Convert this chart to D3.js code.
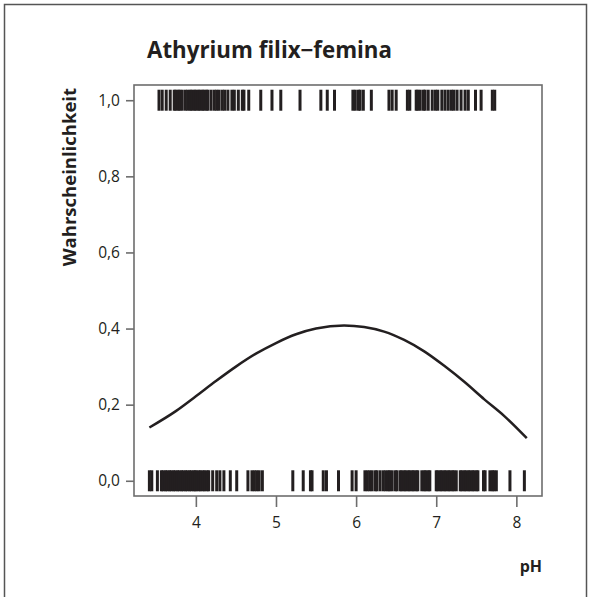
<!DOCTYPE html>
<html lang="de">
<head>
<meta charset="UTF-8">
<title>Athyrium filix-femina</title>
<style>
  html, body { margin: 0; padding: 0; background: #fff; }
  svg { display: block; }
  text { font-family: "Open Sans", "Noto Sans", sans-serif; fill: #231f20; }
  .frame { fill: none; stroke: #555; stroke-width: 1.5px; }
  .box { fill: none; stroke: #6d6d6d; stroke-width: 1.6px; }
  .axis path, .axis line { stroke: #6d6d6d; stroke-width: 1.6px; }
  .axis text { font-size: 15.5px; fill: #231f20; }
  .rug { stroke: #231f20; stroke-width: 3px; }
  .curve { fill: none; stroke: #231f20; stroke-width: 2.5px; }
</style>
</head>
<body>
<svg width="590" height="597"></svg>
<script src="https://d3js.org/d3.v7.min.js"></script>
<script>
// presence (1) and absence (0) observations along pH
const presentPH = [3.54, 3.58, 3.63, 3.68, 3.73, 3.75, 3.78, 3.80, 3.83, 3.87, 3.90,
  3.93, 3.95, 3.98, 4.00, 4.03, 4.05, 4.08, 4.10, 4.13, 4.15, 4.19, 4.23, 4.26, 4.29,
  4.33, 4.36, 4.40, 4.45, 4.48, 4.53, 4.58, 4.60, 4.66, 4.81, 4.95, 5.06, 5.30, 5.56,
  5.64, 5.73, 5.96, 5.99, 6.03, 6.05, 6.09, 6.19, 6.41, 6.45, 6.50, 6.64, 6.67, 6.75,
  6.77, 6.80, 6.84, 6.86, 6.90, 6.95, 6.99, 7.02, 7.07, 7.11, 7.15, 7.19, 7.22, 7.26,
  7.31, 7.36, 7.40, 7.49, 7.56, 7.70, 7.73];

const absentPH = [3.42, 3.45, 3.52, 3.57, 3.59, 3.62, 3.64, 3.67, 3.69, 3.72, 3.74,
  3.77, 3.79, 3.82, 3.84, 3.87, 3.89, 3.92, 3.94, 3.97, 3.99, 4.01, 4.04, 4.06, 4.09,
  4.11, 4.14, 4.16, 4.21, 4.26, 4.30, 4.35, 4.43, 4.51, 4.65, 4.70, 4.73, 4.76, 4.79,
  4.83, 5.21, 5.34, 5.43, 5.45, 5.59, 5.63, 5.78, 5.95, 6.00, 6.11, 6.14, 6.17, 6.20,
  6.24, 6.26, 6.30, 6.34, 6.37, 6.40, 6.42, 6.45, 6.49, 6.51, 6.55, 6.57, 6.60, 6.62,
  6.65, 6.67, 6.70, 6.72, 6.75, 6.77, 6.82, 6.85, 6.87, 6.90, 6.92, 7.00, 7.02, 7.05,
  7.07, 7.10, 7.12, 7.15, 7.17, 7.20, 7.22, 7.25, 7.30, 7.32, 7.35, 7.37, 7.40, 7.42,
  7.45, 7.47, 7.50, 7.52, 7.59, 7.61, 7.67, 7.70, 7.72, 7.75, 7.92, 8.10];

// fitted probability curve
const curvePH   = [3.42, 3.75, 4.00, 4.25, 4.50, 4.75, 5.00, 5.25, 5.50, 5.85,
                   6.10, 6.35, 6.60, 6.85, 7.10, 7.35, 7.60, 7.85, 8.13];
const curveProb = [0.140, 0.183, 0.222, 0.262, 0.300, 0.334, 0.362, 0.385, 0.400, 0.408,
                   0.404, 0.392, 0.370, 0.340, 0.302, 0.260, 0.214, 0.170, 0.112];

const xTicks = [4, 5, 6, 7, 8];
const yTicks = [0, 0.2, 0.4, 0.6, 0.8, 1.0];

const svg = d3.select("svg");

// outer frame
svg.append("rect").attr("class", "frame")
  .attr("x", 4.5).attr("y", 4.5).attr("width", 582).attr("height", 600);

const box = { left: 134, right: 542, top: 85, bottom: 496 };

const x = d3.scaleLinear().domain([3.228, 8.32]).range([box.left, box.right]);
const y = d3.scaleLinear().domain([-0.04, 1.04]).range([box.bottom, box.top]);

const fmt = d => d3.format(".1f")(d).replace(".", ",");

// axes
svg.append("g").attr("class", "axis")
  .attr("transform", `translate(0,${box.bottom})`)
  .call(d3.axisBottom(x).tickValues(xTicks).tickSize(11).tickPadding(10).tickFormat(d3.format("d")))
  .call(g => g.select(".domain").remove());

svg.append("g").attr("class", "axis")
  .attr("transform", `translate(${box.left},0)`)
  .call(d3.axisLeft(y).tickValues(yTicks).tickSize(8).tickPadding(6).tickFormat(fmt))
  .call(g => g.select(".domain").remove());

svg.append("rect").attr("class", "box")
  .attr("x", box.left).attr("y", box.top)
  .attr("width", box.right - box.left).attr("height", box.bottom - box.top);

// rugs
const rugH = 10.5;
svg.append("g").selectAll("line").data(presentPH).join("line")
  .attr("class", "rug")
  .attr("x1", d => x(d)).attr("x2", d => x(d))
  .attr("y1", y(1) - rugH).attr("y2", y(1) + rugH);

svg.append("g").selectAll("line").data(absentPH).join("line")
  .attr("class", "rug")
  .attr("x1", d => x(d)).attr("x2", d => x(d))
  .attr("y1", y(0) - rugH).attr("y2", y(0) + rugH);

// curve
const pts = curvePH.map((p, i) => [p, curveProb[i]]);
svg.append("path").attr("class", "curve")
  .attr("d", d3.line().x(d => x(d[0])).y(d => y(d[1])).curve(d3.curveMonotoneX)(pts));

// titles
svg.append("text")
  .attr("x", 147).attr("y", 58)
  .style("font-size", "22.3px").style("font-weight", "bold")
  .text("Athyrium filix\u2212femina");

svg.append("text")
  .attr("transform", `translate(76,${box.top + 3}) rotate(-90)`)
  .attr("text-anchor", "end")
  .style("font-size", "18.5px").style("font-weight", "bold")
  .text("Wahrscheinlichkeit");

svg.append("text")
  .attr("x", box.right).attr("y", 572)
  .attr("text-anchor", "end")
  .style("font-size", "16px").style("font-weight", "bold")
  .text("pH");
</script>
</body>
</html>
